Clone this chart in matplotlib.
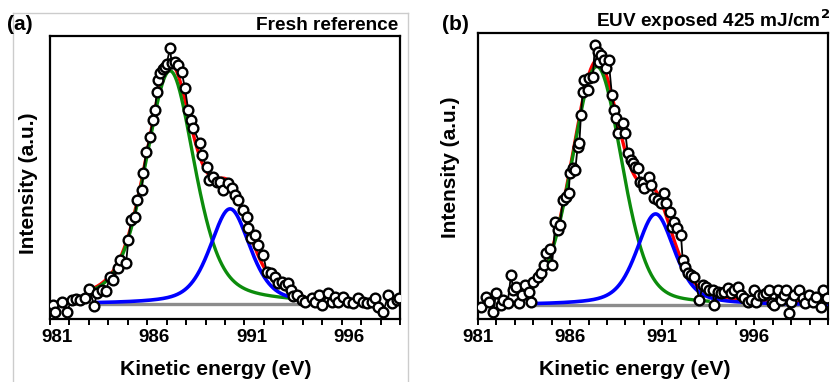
import numpy as np
import matplotlib
matplotlib.use("Agg")
import matplotlib.pyplot as plt
from matplotlib.lines import Line2D
from matplotlib.transforms import ScaledTranslation

plt.rcParams['font.family'] = ['Liberation Sans', 'DejaVu Sans']
plt.rcParams['font.weight'] = 'bold'

# ---------------- measured spectra (kinetic energy in eV, intensity in a.u.) ----------------
energy_fresh = [981.17, 981.26, 981.60, 981.86, 982.11, 982.34, 982.54, 982.80, 983.02, 983.28,
                983.40, 983.66, 983.88, 984.09, 984.26, 984.51, 984.60, 984.91, 985.03, 985.17,
                985.37, 985.46, 985.71, 985.80, 985.94, 986.14, 986.28, 986.40, 986.49, 986.57,
                986.66, 986.79, 986.91, 987.00, 987.17, 987.26, 987.43, 987.60, 987.77, 987.94,
                988.11, 988.23, 988.37, 988.71, 988.80, 989.06, 989.19, 989.40, 989.57, 989.74,
                989.91, 990.14, 990.34, 990.51, 990.69, 990.94, 991.11, 991.20, 991.32, 991.54,
                991.71, 991.97, 992.14, 992.35, 992.57, 992.74, 992.91, 993.09, 993.26, 993.38,
                993.51, 993.69, 993.94, 994.11, 994.46, 994.63, 994.85, 994.97, 995.31, 995.49,
                995.66, 995.83, 996.09, 996.34, 996.57, 996.86, 997.12, 997.29, 997.54, 997.72,
                997.89, 998.14, 998.40, 998.57, 998.83, 998.97]
intensity_fresh = [-0.4, -2.9, 0.9, -2.9, 1.5, 1.7, 1.5, 2.1, 5.5, -0.7,
                   4.0, 5.2, 5.0, 10.2, 9.0, 13.3, 16.4, 15.2, 23.9, 31.3,
                   32.6, 38.8, 42.5, 48.8, 56.8, 62.4, 68.7, 72.4, 79.2, 83.6,
                   86.1, 87.6, 88.6, 89.6, 95.4, 89.8, 90.4, 89.2, 86.7, 80.5,
                   72.4, 68.7, 65.5, 60.0, 55.6, 51.2, 46.3, 47.5, 45.6, 45.6,
                   42.5, 45.0, 43.2, 40.7, 38.8, 35.1, 32.6, 28.2, 24.5, 25.7,
                   22.0, 18.3, 12.1, 11.4, 10.2, 7.7, 8.3, 7.1, 7.7, 5.2,
                   3.0, 3.4, 1.5, 0.9, 2.1, 0.9, 3.4, -0.4, 4.0, 0.9,
                   2.7, 0.9, 2.7, 0.9, 0.2, 2.1, 0.9, 0.2, 0.9, 2.1,
                   -1.0, -2.9, 3.4, 0.2, 1.5, 2.1]

energy_euv = [981.16, 981.43, 981.62, 981.83, 981.98, 982.25, 982.38, 982.61, 982.79, 982.92,
              983.06, 983.24, 983.39, 983.57, 983.79, 983.88, 984.00, 984.24, 984.42, 984.60,
              984.69, 984.91, 985.02, 985.20, 985.32, 985.45, 985.60, 985.78, 985.92, 985.99,
              986.14, 986.28, 986.41, 986.50, 986.59, 986.68, 986.77, 986.95, 987.04, 987.23,
              987.35, 987.50, 987.55, 987.68, 987.86, 987.95, 988.09, 988.27, 988.40, 988.49,
              988.58, 988.85, 989.00, 989.13, 989.31, 989.40, 989.54, 989.67, 989.79, 989.94,
              990.03, 990.30, 990.39, 990.57, 990.75, 990.93, 991.12, 991.21, 991.42, 991.53,
              991.66, 991.79, 992.02, 992.11, 992.26, 992.38, 992.56, 992.74, 993.02, 993.20,
              993.38, 993.52, 993.74, 993.83, 994.01, 994.19, 994.37, 994.55, 994.74, 994.92,
              995.10, 995.28, 995.46, 995.64, 995.82, 996.00, 996.09, 996.27, 996.45, 996.64,
              996.82, 996.96, 997.09, 997.27, 997.45, 997.63, 997.72, 997.90, 997.99, 998.17,
              998.44, 998.63, 998.77, 998.95, 999.17, 999.35, 999.62, 999.71, 999.95]
intensity_euv = [-0.6, 3.1, 1.2, -2.5, 4.4, 0.0, 1.9, 0.6, 11.2, 5.6,
                 6.8, 0.6, 3.7, 7.5, 5.0, 1.2, 8.7, 10.6, 11.8, 14.9,
                 19.3, 21.1, 14.9, 31.1, 28.0, 29.9, 39.2, 40.4, 41.7, 49.1,
                 51.0, 50.4, 59.1, 60.3, 70.9, 79.6, 84.0, 80.2, 84.6, 85.2,
                 97.0, 94.5, 90.8, 93.3, 91.4, 88.3, 91.4, 78.4, 72.8, 69.7,
                 64.1, 67.8, 64.1, 56.6, 54.1, 52.9, 51.6, 51.0, 46.0, 45.4,
                 43.5, 47.9, 44.8, 39.8, 39.2, 37.9, 41.7, 37.9, 34.8, 29.2,
                 31.1, 28.6, 26.1, 16.8, 14.3, 11.8, 11.2, 10.6, 1.9, 7.5,
                 6.8, 5.6, 5.6, 0.0, 5.0, 4.4, 5.0, 6.2, 4.4, 5.6,
                 6.8, 3.7, 2.5, 1.2, 1.9, 5.6, 1.2, 3.7, 3.7, 4.4,
                 5.6, 0.6, 0.0, 5.6, 1.9, 3.7, 5.6, -3.1, 1.2, 3.7,
                 5.6, 2.5, 0.6, 3.7, 1.2, 3.1, -0.6, 5.6, 2.5]

# ---------------- peak fit components: (centre eV, height, FWHM eV, Lorentzian fraction) ----------------
fresh_peak_main = (987.17, 87.0, 3.0, 0.45)
fresh_peak_side = (990.26, 35.5, 2.45, 0.5)
fresh_fit_range = (983.3, 993.9)

euv_peak_main = (987.45, 89.0, 3.2, 0.25)
euv_peak_side = (990.64, 34.0, 2.45, 0.5)
euv_fit_range = (983.9, 999.95)
euv_main_end = 993.5

x_ticks = [981, 986, 991, 996]


def pseudo_voigt(x, centre, height, fwhm, eta):
    u = ((x - centre) / (fwhm / 2.0)) ** 2
    return height * (eta / (1.0 + u) + (1.0 - eta) * np.exp(-np.log(2.0) * u))


W, H = 836, 382
fig = plt.figure(figsize=(W / 100, H / 100), dpi=100)


def px_axes(left, top, right, bottom):
    return fig.add_axes([left / W, 1 - bottom / H, (right - left) / W, (bottom - top) / H])


GREEN = '#0c8c0c'
BLUE = '#0000ff'
RED = '#ff0000'
GREY = '#8c8c8c'


def draw_panel(ax, energy, intensity, main, side, fit_range, main_end, xmax, ylim):
    xf = np.linspace(fit_range[0], fit_range[1], 600)
    xg = xf[xf <= main_end]
    envelope = pseudo_voigt(xf, *main) + pseudo_voigt(xf, *side)
    ax.plot(xf, envelope, color=RED, lw=2.4, zorder=1)
    ax.plot(xf, np.zeros_like(xf), color=GREY, lw=2.4, zorder=2)
    ax.plot(xg, pseudo_voigt(xg, *main), color=GREEN, lw=2.4, zorder=3)
    ax.plot(xf, pseudo_voigt(xf, *side), color=BLUE, lw=2.6, zorder=3)
    ax.plot(energy, intensity, color='black', lw=1.3, zorder=4)
    ax.plot(energy, intensity, 'o', ms=7.0, mfc='white', mec='black', mew=1.7, zorder=5)
    ax.set_xlim(981, xmax)
    ax.set_ylim(*ylim)
    ax.set_xticks(x_ticks)
    ax.set_xticks(np.arange(981, xmax + 0.01, 1), minor=True)
    ax.set_yticks([])
    ax.tick_params(axis='x', which='both', direction='out', length=4.5, width=1.4,
                   labelsize=13.5, pad=3)
    for lab in ax.get_xticklabels():
        lab.set_fontweight('bold')
    for sp in ax.spines.values():
        sp.set_linewidth(1.6)


ax_a = px_axes(50, 36, 400, 319)
draw_panel(ax_a, energy_fresh, intensity_fresh, fresh_peak_main, fresh_peak_side,
           fresh_fit_range, fresh_fit_range[1], 999, (-5.6, 100))
shift = ScaledTranslation(7 / 100, 0, fig.dpi_scale_trans)
for lab in ax_a.get_xticklabels():
    lab.set_transform(lab.get_transform() + shift)

ax_b = px_axes(478, 33, 828, 319)
draw_panel(ax_b, energy_euv, intensity_euv, euv_peak_main, euv_peak_side,
           euv_fit_range, euv_main_end, 1000, (-5.2, 101.5))


def ftext(x, y, s, **kw):
    fig.text(x / W, 1 - y / H, s, fontweight='bold', **kw)


# panel letters and titles
ftext(7, 30, '(a)', fontsize=15, ha='left', va='baseline')
ftext(398, 30, 'Fresh reference', fontsize=13.7, ha='right', va='baseline')
ftext(442, 30, '(b)', fontsize=15, ha='left', va='baseline')
ftext(830, 27, 'EUV exposed 425 mJ/cm$^\\mathbf{2}$', fontsize=13.7, ha='right', va='baseline')

# axis titles
ftext(216, 375, 'Kinetic energy (eV)', fontsize=15.2, ha='center', va='baseline')
ftext(635, 375, 'Kinetic energy (eV)', fontsize=15.2, ha='center', va='baseline')
ftext(28, 183, 'Intensity (a.u.)', fontsize=15, ha='center', va='center', rotation=90)
ftext(450, 167, 'Intensity (a.u.)', fontsize=15, ha='center', va='center', rotation=90)

# light frame around the left panel
frame_kw = dict(color='#cccccc', lw=1.0, transform=fig.transFigure)
fig.lines.append(Line2D([12.5 / W, 408 / W], [1 - 12.5 / H, 1 - 12.5 / H], **frame_kw))
fig.lines.append(Line2D([12.5 / W, 12.5 / W], [0, 1 - 12.5 / H], **frame_kw))
fig.lines.append(Line2D([408 / W, 408 / W], [0, 1 - 12.5 / H], **frame_kw))

fig.savefig('out.png', dpi=100)
